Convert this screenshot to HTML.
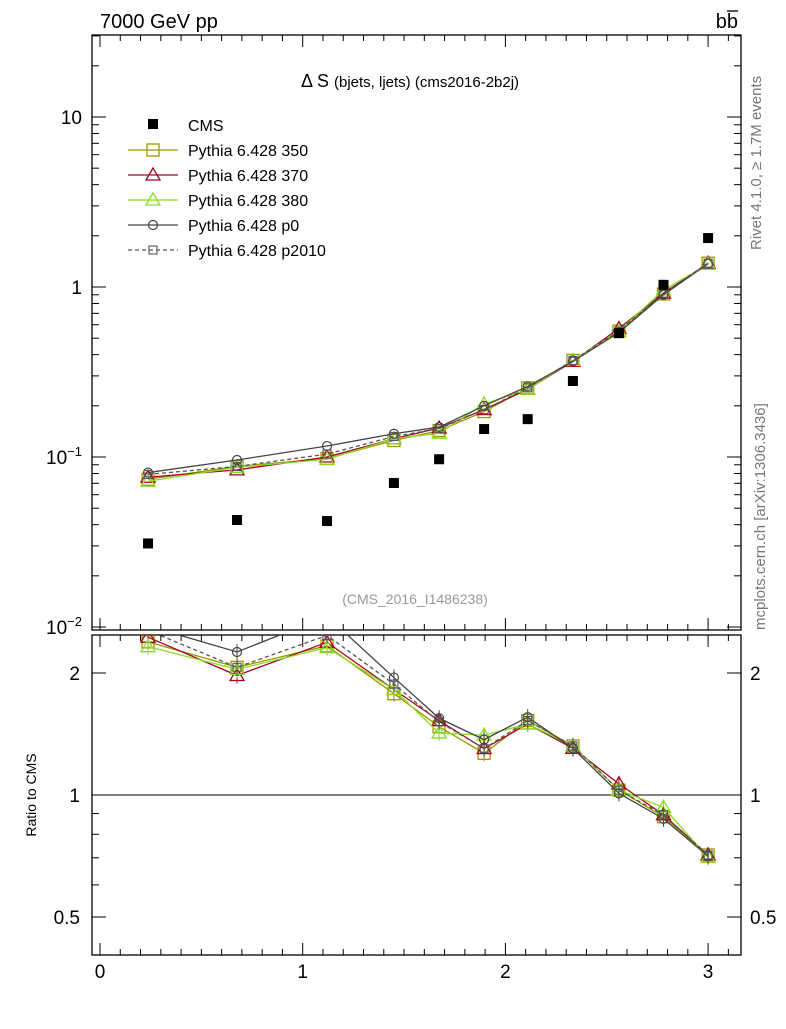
<!DOCTYPE html>
<html><head><meta charset="utf-8"><style>
body{margin:0;background:#fff;font-family:"Liberation Sans",sans-serif}
svg text{font-family:"Liberation Sans",sans-serif}
</style></head><body>
<svg id="c" width="786" height="1024" xmlns="http://www.w3.org/2000/svg">
<text x="100" y="28" font-size="20">7000 GeV pp</text>
<text x="738" y="28" font-size="20" text-anchor="end">bb</text>
<line x1="727" y1="11" x2="738" y2="11" stroke="#000" stroke-width="1.3"/>
<text x="410" y="87" font-size="18" text-anchor="middle">Δ S <tspan font-size="15">(bjets, ljets) (cms2016-2b2j)</tspan></text>
<text x="415" y="604" font-size="14" fill="#999" text-anchor="middle">(CMS_2016_I1486238)</text>
<text transform="translate(761,250) rotate(-90)" font-size="15" fill="#777">Rivet 4.1.0, ≥ 1.7M events</text>
<text transform="translate(765,630) rotate(-90)" font-size="15" fill="#777">mcplots.cern.ch [arXiv:1306.3436]</text>
<text transform="translate(36,795) rotate(-90)" font-size="14" text-anchor="middle">Ratio to CMS</text>
<g id="g"></g>
</svg>
<script>
const xs=[0.237,0.676,1.12,1.45,1.673,1.895,2.11,2.333,2.56,2.78,3.0];
const cms=[0.031,0.0426,0.042,0.0703,0.097,0.146,0.167,0.28,0.535,1.03,1.94];
const s350=[0.074,0.088,0.098,0.125,0.143,0.185,0.255,0.37,0.55,0.91,1.38];
const s370=[0.076,0.084,0.1,0.128,0.148,0.19,0.25,0.365,0.57,0.92,1.38];
const s380=[0.072,0.087,0.097,0.128,0.138,0.205,0.25,0.37,0.55,0.96,1.36];
const sp0=[0.081,0.096,0.116,0.137,0.15,0.2,0.26,0.365,0.54,0.9,1.37];
const sp2010=[0.079,0.088,0.104,0.132,0.147,0.19,0.255,0.37,0.55,0.92,1.38];
const xTicks=[0,1,2,3];
const names=["Pythia 6.428 350","Pythia 6.428 370","Pythia 6.428 380","Pythia 6.428 p0","Pythia 6.428 p2010"];
const NS="http://www.w3.org/2000/svg";const g=document.getElementById('g');
function el(t,a,p){const e=document.createElementNS(NS,t);for(const k in a)e.setAttribute(k,a[k]);(p||g).appendChild(e);return e;}
const L=92,R=741,T1=35,B1=630,T2=635,B2=955;
const X=v=>100+v*202.7;
const Y=v=>287-170*Math.log10(v);
const YR=v=>795-122*Math.log2(v);
let f=el('rect',{x:L,y:T1,width:R-L,height:B1-T1,fill:'none',stroke:'#000','stroke-width':1.3});

f=el('rect',{x:L,y:T2,width:R-L,height:B2-T2,fill:'none',stroke:'#000','stroke-width':1.3});

for(let v=0;v<=3.15;v+=0.1){const m=Math.abs(v-Math.round(v))<1e-6;const len=m?12:6;const x=X(v);
 for(const [t,b] of [[T1,B1],[T2,B2]]){el('line',{x1:x,y1:b,x2:x,y2:b-len,stroke:'#000'});el('line',{x1:x,y1:t,x2:x,y2:t+len,stroke:'#000'});}}
xTicks.forEach(v=>{const t=el('text',{x:X(v),y:978,'font-size':19,'text-anchor':'middle'});t.textContent=v;
});
for(let d=-2;d<=1;d++){for(let k=1;k<=9;k++){const v=k*Math.pow(10,d);const y=Y(v);if(y<T1||y>B1)continue;const len=k==1?14:7;
 el('line',{x1:L,y1:y,x2:L+len,y2:y,stroke:'#000'});el('line',{x1:R,y1:y,x2:R-len,y2:y,stroke:'#000'});}}
[["10",1],["1",0]].forEach(([s,d])=>{const t=el('text',{x:82,y:Y(Math.pow(10,d))+7,'font-size':19,'text-anchor':'end'});t.textContent=s;
});
[[-1],[-2]].forEach(([d])=>{const t=el('text',{x:82,y:Y(Math.pow(10,d))+7,'font-size':19,'text-anchor':'end'});t.innerHTML='10<tspan font-size="13" dy="-8">−'+(-d)+'</tspan>';
});
[0.5,0.6,0.7,0.8,0.9,1,2].forEach(v=>{const y=YR(v);const len=(v==1||v==2||v==0.5)?14:7;
 el('line',{x1:L,y1:y,x2:L+len,y2:y,stroke:'#000'});el('line',{x1:R,y1:y,x2:R-len,y2:y,stroke:'#000'});});
[[2,"2"],[1,"1"],[0.5,"0.5"]].forEach(([v,s])=>{let t=el('text',{x:80,y:YR(v)+7,'font-size':19,'text-anchor':'end'});t.textContent=s;

t=el('text',{x:750,y:YR(v)+7,'font-size':19});t.textContent=s;
});
el('line',{x1:L,y1:YR(1),x2:R,y2:YR(1),stroke:'#000'});
const cp1=el('clipPath',{id:'c1'});el('rect',{x:L,y:T1,width:R-L,height:B1-T1},cp1);
const cp2=el('clipPath',{id:'c2'});el('rect',{x:L,y:T2,width:R-L,height:B2-T2},cp2);
function marker(type,x,y,col,parent){
 if(type=='sq')return el('rect',{x:x-6,y:y-6,width:12,height:12,fill:'none',stroke:col,'stroke-width':1.3},parent);
 if(type=='tri')return el('polygon',{points:`${x},${y-7} ${x-7},${y+5} ${x+7},${y+5}`,fill:'none',stroke:col,'stroke-width':1.3},parent);
 if(type=='circ')return el('circle',{cx:x,cy:y,r:4.5,fill:'none',stroke:col,'stroke-width':1.2},parent);
 return el('rect',{x:x-4,y:y-4,width:8,height:8,fill:'none',stroke:col,'stroke-width':1.1},parent);}
const series=[[s350,'#999900','sq',''],[s370,'#aa0022','tri',''],[s380,'#88dd22','tri',''],[sp0,'#444','circ',''],[sp2010,'#555','ssq','4,3']];
const sn=['series-350','series-370','series-380','series-p0','series-p2010'];
series.forEach(([d,col,m,dash],i)=>{
 const gm=el('g',{'clip-path':'url(#c1)'});
 const gr=el('g',{'clip-path':'url(#c2)'});
 el('polyline',{points:d.map((v,j)=>X(xs[j])+','+Y(v)).join(' '),fill:'none',stroke:col,'stroke-width':1.3,'stroke-dasharray':dash},gm);
 el('polyline',{points:d.map((v,j)=>X(xs[j])+','+YR(v/cms[j])).join(' '),fill:'none',stroke:col,'stroke-width':1.3,'stroke-dasharray':dash},gr);
 d.forEach((v,j)=>{marker(m,X(xs[j]),Y(v),col,gm);const yr=YR(v/cms[j]);
  el('line',{x1:X(xs[j]),y1:yr-8,x2:X(xs[j]),y2:yr+8,stroke:col},gr);marker(m,X(xs[j]),yr,col,gr);});
});
cms.forEach((v,j)=>{const r=el('rect',{x:X(xs[j])-5,y:Y(v)-5,width:10,height:10,fill:'#000'});
});
let lg=el('g',{});
el('rect',{x:148,y:119,width:10,height:10,fill:'#000'},lg);
let t=el('text',{x:188,y:131,'font-size':16},lg);t.textContent='CMS';
series.forEach(([d,col,m,dash],i)=>{const y=150+i*25;
 el('line',{x1:128,y1:y,x2:178,y2:y,stroke:col,'stroke-width':1.3,'stroke-dasharray':dash},lg);
 marker(m,153,y,col,lg);const tt=el('text',{x:188,y:y+6,'font-size':16},lg);tt.textContent=names[i];
 });
</script>
</body></html>
